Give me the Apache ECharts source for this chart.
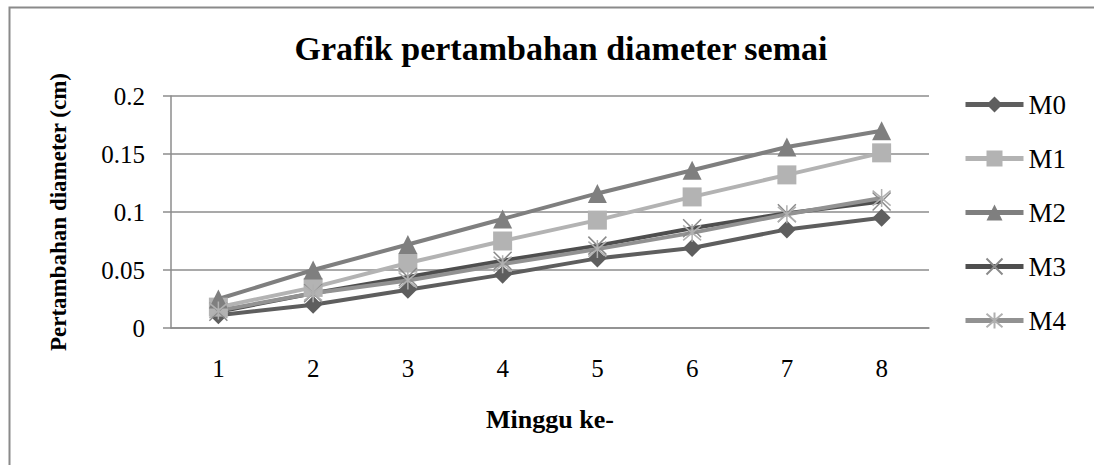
<!DOCTYPE html>
<html>
<head>
<meta charset="utf-8">
<script src="https://cdn.jsdelivr.net/npm/echarts@6/dist/echarts.min.js"></script>
<style>
html,body{margin:0;padding:0;background:#fff;}
#c{width:1094px;height:465px;}
</style>
</head>
<body>
<div id="c"></div>
<script>
const categories = ['1','2','3','4','5','6','7','8'];
const seriesNames = ['M0','M1','M2','M3','M4'];
const M0 = [0.011, 0.020, 0.033, 0.046, 0.060, 0.069, 0.085, 0.095];
const M1 = [0.018, 0.035, 0.056, 0.075, 0.093, 0.113, 0.132, 0.151];
const M2 = [0.025, 0.050, 0.072, 0.094, 0.116, 0.136, 0.156, 0.170];
const M3 = [0.014, 0.030, 0.044, 0.058, 0.071, 0.086, 0.099, 0.109];
const M4 = [0.015, 0.030, 0.041, 0.055, 0.068, 0.082, 0.098, 0.112];
const yTicks = [0, 0.05, 0.1, 0.15, 0.2];

const font = 'Liberation Serif, Times New Roman, serif';
const chart = echarts.init(document.getElementById('c'), null, {renderer: 'svg'});

const styles = [
  {line:'#5e5e5e', mark:'#5e5e5e', symbol:'diamond', size:18, border:0},
  {line:'#b3b3b3', mark:'#b3b3b3', symbol:'rect', size:19, border:0},
  {line:'#7f7f7f', mark:'#7f7f7f', symbol:'triangle', size:19, border:0},
  {line:'#4e4e4e', mark:'#8a8a8a', symbol:'path://M0,0L10,10M10,0L0,10', size:18, border:1.5},
  {line:'#929292', mark:'#b0b0b0', symbol:'path://M0,0L10,10M10,0L0,10M5,-1L5,11', size:18, border:1.5}
];
const dataArr = [M0, M1, M2, M3, M4];

const series = seriesNames.map((n, i) => {
  const s = styles[i];
  return {
    name: n,
    type: 'line',
    data: dataArr[i],
    symbol: s.symbol,
    symbolSize: s.size,
    showAllSymbol: true,
    lineStyle: {color: s.line, width: 4},
    itemStyle: s.border ? {color: s.mark, borderColor: s.mark, borderWidth: s.border} : {color: s.mark},
    emphasis: {disabled: true},
    animation: false
  };
});

chart.setOption({
  animation: false,
  backgroundColor: '#ffffff',
  graphic: [{
    type: 'rect', left: 7, top: 5,
    shape: {x: 0, y: 0, width: 1100, height: 480},
    style: {fill: 'none', stroke: '#8a8a8a', lineWidth: 2},
    silent: true
  }],
  title: {
    text: 'Grafik pertambahan diameter semai',
    left: 556, top: 26, textAlign: 'center',
    textStyle: {fontFamily: font, fontSize: 34, fontWeight: 'bold', color: '#000'}
  },
  legend: {
    orient: 'vertical',
    left: 958, top: 86,
    itemWidth: 58, itemHeight: 20, itemGap: 27,
    lineStyle: {width: 5},
    textStyle: {fontFamily: font, fontSize: 27, color: '#000'},
    data: seriesNames
  },
  grid: {left: 171, right: 165, top: 96, bottom: 137, containLabel: false},
  xAxis: {
    type: 'category',
    data: categories,
    boundaryGap: true,
    name: 'Minggu ke-',
    nameLocation: 'middle',
    nameGap: 78,
    nameTextStyle: {fontFamily: font, fontSize: 26, fontWeight: 'bold', color: '#000'},
    axisLine: {lineStyle: {color: '#8c8c8c', width: 1.5}},
    axisTick: {show: false},
    axisLabel: {fontFamily: font, fontSize: 25, color: '#000', margin: 28}
  },
  yAxis: {
    type: 'value',
    min: 0, max: 0.2, interval: 0.05,
    name: 'Pertambahan diameter (cm)',
    nameLocation: 'middle',
    nameGap: 101,
    nameTextStyle: {fontFamily: font, fontSize: 23, fontWeight: 'bold', color: '#000'},
    axisLine: {show: true, lineStyle: {color: '#8c8c8c', width: 1.5}},
    axisTick: {show: true, length: 8, lineStyle: {color: '#8c8c8c', width: 1.5}},
    splitLine: {lineStyle: {color: '#8c8c8c', width: 1.5}},
    axisLabel: {
      fontFamily: font, fontSize: 25, color: '#000', margin: 26,
      formatter: v => { const t = yTicks.find(x => Math.abs(x - v) < 1e-9); return String(t !== undefined ? t : v); }
    }
  },
  series: series
});
</script>
</body>
</html>
